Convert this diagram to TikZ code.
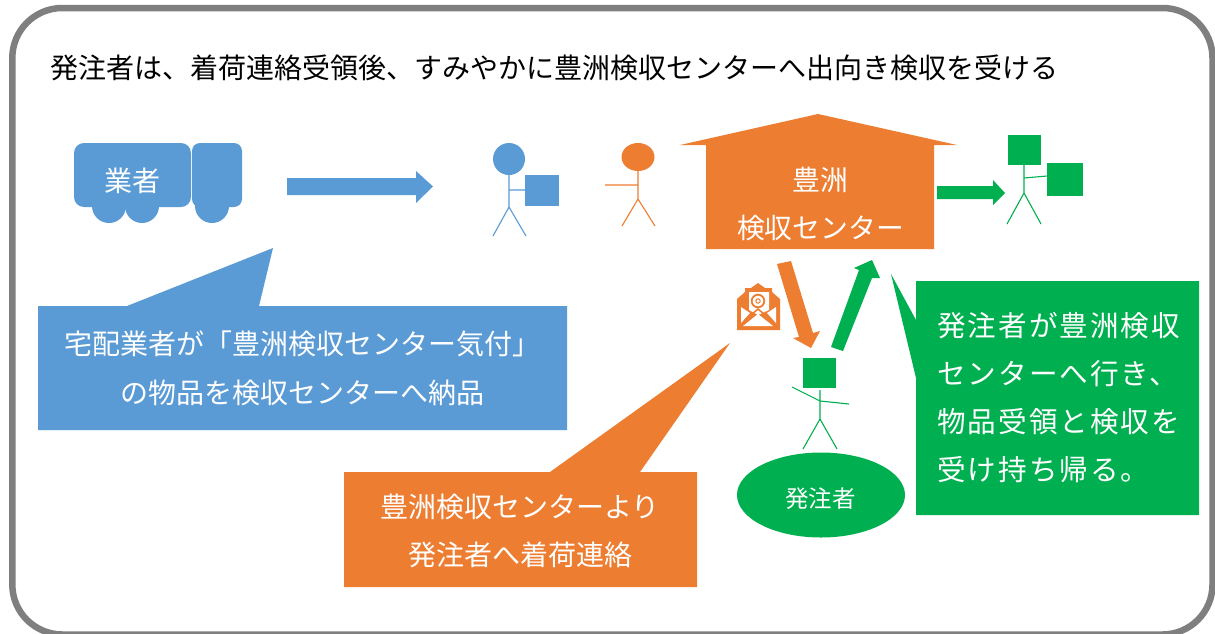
\documentclass[tikz,border=0pt]{standalone}
\usepackage{fontspec}
\setmainfont{Noto Sans CJK JP}
\newfontfamily\spacedjp[LetterSpace=7]{Noto Sans CJK JP}
\usetikzlibrary{shapes.geometric}
\definecolor{cblue}{HTML}{5B9BD5}
\definecolor{corange}{HTML}{ED7D31}
\definecolor{cgreen}{HTML}{00B050}
\definecolor{cframe}{HTML}{7F7F7F}
\newcommand{\fs}[2]{\fontsize{#1}{#2}\selectfont}
\tikzset{
  x=1pt,y=-1pt,
  whitetext/.style={text=white,inner sep=0pt,align=center},
  titletext/.style={text=black,inner sep=0pt,anchor=west},
  bluefill/.style={fill=cblue,draw=none},
  orangefill/.style={fill=corange,draw=none},
  greenfill/.style={fill=cgreen,draw=none},
  whitefill/.style={fill=white,draw=none},
  bluestick/.style={draw=cblue,line width=1.1pt},
  orangestick/.style={draw=corange,line width=1.1pt},
  greenstick/.style={draw=cgreen,line width=1.1pt},
}
\begin{document}
\begin{tikzpicture}
\useasboundingbox (0,0) rectangle (1215,633);
\begin{scope}
\clip (0,0) rectangle (1215,633);
\fill[white] (0,0) rectangle (1215,633);
\draw[cframe,line width=6.5pt,rounded corners=50pt] (12.3,8) rectangle (1212.5,634.5);
\end{scope}
\node[titletext,font=\fs{28}{34}] (title) at (50,68) {発注者は、着荷連絡受領後、すみやかに豊洲検収センターへ出向き検収を受ける};

% truck
\fill[bluefill] (109,206) circle (17);
\fill[bluefill] (142,206) circle (17);
\fill[bluefill] (212,206) circle (17);
\draw[bluefill,rounded corners=10pt] (74,143) rectangle (191,207);
\draw[bluefill,rounded corners=8pt] (192,143) rectangle (242,207);
\node[whitetext,font=\fs{28}{32}] (gyosha) at (132.5,181) {業者};

% blue arrow
\fill[bluefill] (287,178) -- (416,178) -- (416,171) -- (433,186.5) -- (416,203) -- (416,195) -- (287,195) -- cycle;

% blue person
\fill[bluefill] (509,159) circle (16);
\draw[bluestick] (509,175) -- (509,207) (509,190) -- (525,190) (493,236) -- (509,207) -- (526,236);
\fill[bluefill] (525,175) rectangle (559,206);

% orange person
\fill[orangefill] (638,157) ellipse (16.5 and 14);
\draw[orangestick] (638,170) -- (638,199) (605,185) -- (638,185) (622,226) -- (638,199) -- (655,226);

% house
\fill[orangefill] (818,114) -- (957,145) -- (934,145) -- (934,249) -- (706,249) -- (706,145) -- (680,145) -- cycle;
\node[whitetext,font=\fs{27.8}{48}] (house) at (820.5,204) {豊洲\\検収センター};

% green arrow right
\fill[greenfill] (937,186) -- (993,186) -- (993,180) -- (1005,193) -- (993,205) -- (993,199) -- (937,199) -- cycle;

% green person right
\fill[greenfill] (1008,135) rectangle (1041,165);
\draw[greenstick] (1024,165) -- (1024,193) (1024,178) -- (1047,176) (1007,224) -- (1024,193) -- (1041,224);
\fill[greenfill] (1047,163) rectangle (1083,196);

% callout blue
\fill[bluefill] (38,306) -- (127,306) -- (273,248) -- (259,306) -- (567,306) -- (567,430) -- (38,430) -- cycle;
\node[whitetext,font=\fs{28}{49}] (bluetext) at (302.5,368) {宅配業者が「豊洲検収センター気付」\\の物品を検収センターへ納品};

% callout orange
\fill[orangefill] (344,472) -- (550,472) -- (730,343) -- (640,472) -- (697,472) -- (697,587) -- (344,587) -- cycle;
\node[whitetext,font=\fs{28}{48}] (orangetext) at (520,531) {豊洲検収センターより\\発注者へ着荷連絡};

% callout green
\fill[greenfill] (916,281) -- (1199,281) -- (1199,515) -- (916,515) -- (916,378) -- (891,274) -- (916,320) -- cycle;
\node[whitetext,align=left,anchor=west,font=\spacedjp\fs{28.6}{48.3}] (greentext) at (937,397.5) {発注者が豊洲検収\\センターへ行き、\\物品受領と検収を\\受け持ち帰る。};

% envelope
\fill[orangefill] (737,330) -- (737,299) -- (745,292) -- (745,288) -- (751,288) -- (758,283) -- (765,288) -- (772,288) -- (772,292) -- (780,299) -- (780,330) -- cycle;
\fill[whitefill] (749,292) -- (769,292) -- (769,310) -- (758,315) -- (749,310) -- cycle;
\fill[whitefill] (741,307) -- (750,313) -- (741,323) -- cycle;
\fill[whitefill] (776,307) -- (767,313) -- (776,323) -- cycle;
\fill[whitefill] (743,326) -- (758,314) -- (773,326) -- cycle;
\draw[corange,line width=1.6pt] (745,320) -- (758,309) -- (771,320);
\draw[corange,line width=1.8pt] (758,301) circle (6.3);
\draw[corange,line width=1pt] (758,301) circle (2.2);

% orange diagonal arrow
\fill[orangefill] (777,264) -- (791,261) -- (813,333) -- (820,331) -- (811,348) -- (793,338) -- (799,337) -- cycle;

% green diagonal arrow
\fill[greenfill] (831,347) -- (843,351) -- (872,278) -- (880,278) -- (872,260) -- (854,268) -- (859,270) -- cycle;

% green person bottom
\fill[greenfill] (803,358) rectangle (836,388);
\draw[greenstick] (820,390) -- (820,419) (792,387) -- (820,401) -- (849,404) (803,449) -- (820,419) -- (837,449);

% ellipse
\node[ellipse,fill=cgreen,draw=none,minimum width=168pt,minimum height=85pt,inner sep=0pt] (hatchushaoval) at (821,495) {};
\node[whitetext,font=\fs{23.5}{28}] (hatchusha) at (820.5,499) {発注者};
\end{tikzpicture}
\end{document}
